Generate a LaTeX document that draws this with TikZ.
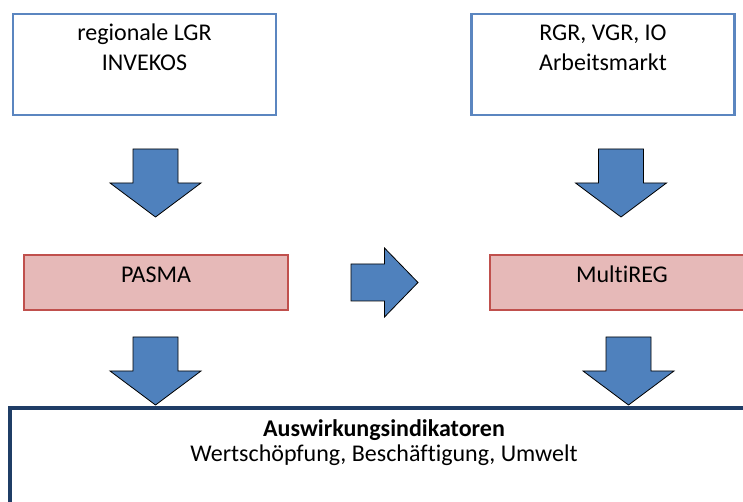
\documentclass[tikz,border=0pt]{standalone}
\usepackage{fontspec}
\setmainfont{Carlito}[Ligatures=NoCommon]
\usetikzlibrary{positioning}

\definecolor{arrowblue}{HTML}{4F81BD}
\definecolor{srcblue}{HTML}{5B86C0}
\definecolor{modelfill}{HTML}{E6B9B8}
\definecolor{modelred}{HTML}{C0504D}
\definecolor{resultnavy}{HTML}{1F3D66}

\tikzset{
  downarrow/.pic={
    \draw[bigarrow] (-22.5,-34) -- (22.5,-34) -- (22.5,0) -- (45.5,0)
      -- (0,34) -- (-45.5,0) -- (-22.5,0) -- cycle;
  },
  rightarrow/.pic={
    \draw[bigarrow] (-33.5,-18.5) -- (0,-18.5) -- (0,-34.5) -- (33.5,0)
      -- (0,34.5) -- (0,18.5) -- (-33.5,18.5) -- cycle;
  }
}

\begin{document}
\begin{tikzpicture}[x=0.75pt,y=-0.75pt,
  every node/.style={font=\fontsize{18pt}{22.5pt}\selectfont},
  bigarrow/.style={fill=arrowblue,draw=black,line width=0.6pt,line join=miter},
  srcbox/.style={draw=srcblue,line width=1.8pt,fill=white,
    minimum width=197.25pt,minimum height=75.75pt},
  modelbox/.style={draw=modelred,line width=2pt,fill=modelfill,
    minimum width=198pt,minimum height=41.25pt,text height=12pt,text depth=12pt},
  resultbox/.style={draw=resultnavy,line width=2.3pt,fill=white,
    minimum width=561pt,minimum height=99pt},
  boxtext/.style={anchor=base,align=center,inner sep=0pt}]

\useasboundingbox (0,0) rectangle (743,502);
\clip (0,0) rectangle (743,502);

% data sources
\node[srcbox, label={[boxtext,yshift=-43.5pt]north:regionale LGR\\INVEKOS}] (lgr) at (144.5,64.5) {};
\node[srcbox, label={[boxtext,yshift=-43.5pt]north:RGR, VGR, IO\\Arbeitsmarkt}] (rgr) at (603,64.5) {};

% models
\node[modelbox] (pasma) at (156,282.5) {PASMA};
\node[modelbox] (multireg) at (622,282.5) {MultiREG};

% results
\node[resultbox, label={[boxtext,yshift=-41.25pt,
  font=\fontsize{18pt}{19pt}\selectfont]north:\textbf{Auswirkungsindikatoren}\\Wertschöpfung, Beschäftigung, Umwelt}] (impact) at (384,474) {};

% block arrows
\pic at (155.5,183) {downarrow};
\pic at (621,183) {downarrow};
\pic at (384.5,282.5) {rightarrow};
\pic at (155.5,371) {downarrow};
\pic at (628.5,371) {downarrow};
\end{tikzpicture}
\end{document}
